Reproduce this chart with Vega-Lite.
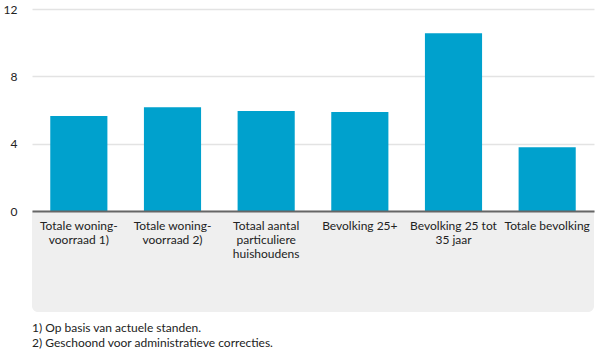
{
  "$schema": "https://vega.github.io/schema/vega-lite/v6.json",
  "autosize": {"type": "none"},
  "width": 562,
  "height": 202,
  "padding": {"left": 32, "top": 9, "right": 6, "bottom": 151},
  "background": "white",
  "datasets": {
    "bars": [
      {"categorie": "Totale woning-|voorraad 1)", "waarde": 5.64},
      {"categorie": "Totale woning-|voorraad 2)", "waarde": 6.16},
      {"categorie": "Totaal aantal|particuliere|huishoudens", "waarde": 5.94},
      {"categorie": "Bevolking 25+", "waarde": 5.88},
      {"categorie": "Bevolking 25 tot|35 jaar", "waarde": 10.56},
      {"categorie": "Totale bevolking", "waarde": 3.78}
    ],
    "band": [{"onder": -6, "boven": 0}]
  },
  "title": {
    "text": ["1) Op basis van actuele standen.", "2) Geschoond voor administratieve correcties."],
    "orient": "bottom",
    "anchor": "start",
    "frame": "group",
    "offset": 11,
    "font": "Lato",
    "fontSize": 12,
    "fontWeight": "normal",
    "color": "#222222",
    "lineHeight": 15
  },
  "layer": [
    {
      "data": {"name": "band"},
      "mark": {"type": "rect", "color": "#efefef", "clip": false, "cornerRadiusBottomLeft": 6, "cornerRadiusBottomRight": 6},
      "encoding": {
        "y": {"field": "onder", "type": "quantitative"},
        "y2": {"field": "boven"}
      }
    },
    {
      "data": {"name": "bars"},
      "mark": {"type": "bar", "color": "#00a1cd"},
      "encoding": {
        "x": {
          "field": "categorie",
          "type": "nominal",
          "sort": null,
          "scale": {"paddingInner": 0.39, "paddingOuter": 0.195},
          "axis": {
            "title": null,
            "zindex": 2,
            "labelAngle": 0,
            "labelExpr": "split(datum.label, '|')",
            "labelFont": "Lato",
            "labelFontSize": 12,
            "labelColor": "#222222",
            "labelLineHeight": 14,
            "labelBaseline": "top",
            "labelPadding": 9,
            "ticks": false,
            "domainColor": "#666666",
            "domainWidth": 2,
            "labelLimit": 120
          }
        },
        "y": {
          "field": "waarde",
          "type": "quantitative",
          "scale": {"domain": [0, 12], "nice": false},
          "axis": {
            "title": null,
            "zindex": 0,
            "values": [0, 4, 8, 12],
            "ticks": false,
            "domain": false,
            "gridColor": "#e3e3e3",
            "gridWidth": 1.5,
            "labelFont": "Lato",
            "labelFontSize": 12,
            "labelColor": "#222222",
            "labelPadding": 15
          }
        }
      }
    }
  ],
  "config": {
    "view": {"stroke": null}
  }
}
